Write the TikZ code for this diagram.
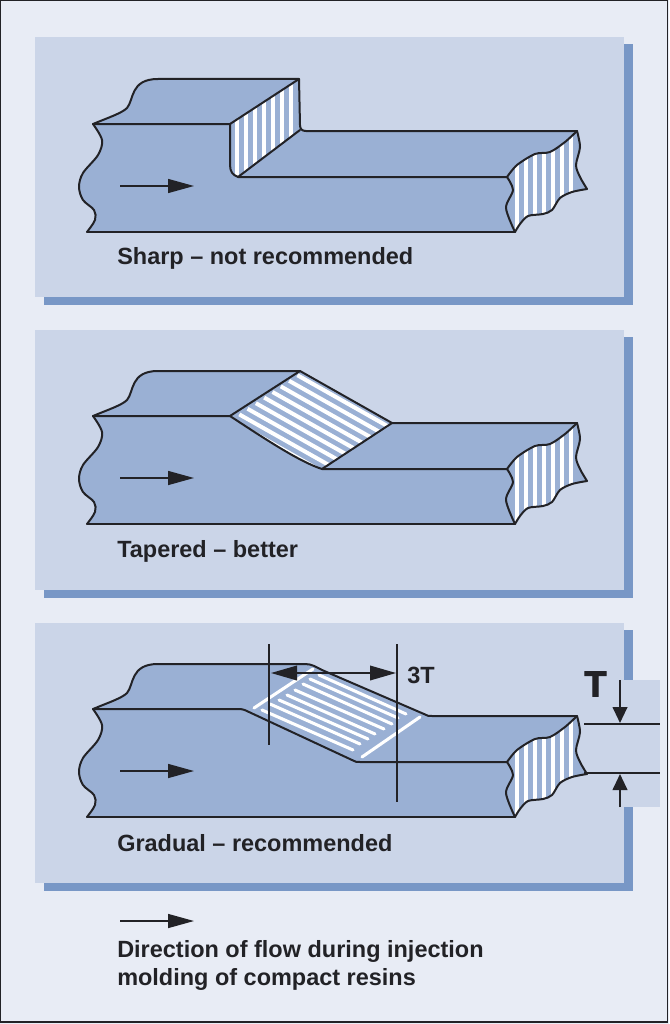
\documentclass[tikz,border=0pt]{standalone}
\usepackage{fontspec}
\setmainfont{Liberation Sans}
\newfontfamily\heavyfont[FakeBold=2.5]{Liberation Sans Bold}
\usetikzlibrary{arrows.meta}
\definecolor{bgc}{HTML}{E8ECF5}
\definecolor{panelc}{HTML}{CBD5E8}
\definecolor{shadowc}{HTML}{7897C6}
\definecolor{blockc}{HTML}{9AB0D4}
\definecolor{inkc}{HTML}{222226}
\tikzset{
  edge/.style={draw=inkc,line width=1.5pt,line join=round,line cap=round},
  hatch/.style={draw=white,line width=2.5pt},
  hatchwide/.style={draw=white,line width=3pt},
  flowarrow/.style={draw=inkc,line width=1.1pt,-{Triangle[length=19.5pt,width=10.5pt]}},
  dimarrow/.style={draw=inkc,line width=1.1pt,{Triangle[length=19.5pt,width=11pt]}-{Triangle[length=19.5pt,width=11pt]}},
  tarrow/.style={draw=inkc,line width=1.5pt,-{Triangle[length=12pt,width=11pt]}},
  dimline/.style={draw=inkc,line width=1.1pt},
  tline/.style={draw=inkc,line width=1.9pt},
  caption/.style={anchor=west,font=\fontsize{17.6pt}{21pt}\selectfont\bfseries,text=inkc,inner sep=0pt,align=left},
  whitedash/.style={draw=white,line width=2.3pt,line cap=round}
}
\newcommand\LeftWave[1]{#1 plot[smooth,tension=.55] coordinates {(87,232) (95,220) (94,210) (83,200) (79,187) (83,173) (98,155) (102,140) (93,124)}}
\newcommand\CutA[1]{#1 plot[smooth,tension=.5] coordinates {(507,177) (517,165) (535,154) (550,152) (565,142) (577,131)}}
\newcommand\CutB[1]{#1 plot[smooth,tension=.5] coordinates {(577,131) (580,147) (576,165) (580,177) (587,189)}}
\newcommand\CutC[1]{#1 plot[smooth,tension=.5] coordinates {(587,189) (572,192) (560,198) (552,210) (543,214) (528,216) (520,224) (515,232)}}
\newcommand\CutD[1]{#1 plot[smooth,tension=.5] coordinates {(515,232) (506,208) (513,190) (507,177)}}
\newcommand\TopCurve{(93,124) .. controls (110,117) and (122,113) .. (127,108) .. controls (134,100) and (130,79) .. (158,79)}
\newcommand\BlockEnds{%
  \begin{scope}
    \clip \CutA{} \CutB{--} \CutC{--} \CutD{--} -- cycle;
    \foreach \sx in {517,526,535,544,553,562,571}{\draw[hatch] (\sx,120) -- (\sx,240);}
  \end{scope}
  \draw[edge] \LeftWave{};
  \draw[edge] \CutA{};
  \draw[edge] \CutB{};
  \draw[edge] \CutC{};
  \draw[edge] \CutD{};
  \draw[edge] (87,232) -- (515,232);
}
\begin{document}
\begin{tikzpicture}[x=0.75pt,y=-0.75pt]
\useasboundingbox (0,0) rectangle (669,1024);
\fill[bgc] (0,0) rectangle (669,1024);
\draw[inkc,line width=1.2pt] (0.6,0.6) rectangle (667.6,1022);

% panels
\foreach \py in {0,293,586}{
  \fill[shadowc] (44,44+\py) rectangle (633,305+\py);
  \fill[panelc] (35,37+\py) rectangle (624,297+\py);
}

% Block 1: sharp
\fill[blockc] \LeftWave{} -- (93,124) .. controls (110,117) and (122,113) .. (127,108) .. controls (134,100) and (130,79) .. (158,79) -- (299,79) -- (300,125) .. controls (300,129) and (302,131) .. (306,131) -- (577,131) \CutB{--} \CutC{--} -- cycle;
\begin{scope}
  \clip (230,124) -- (299,79) -- (300,130) -- (238,177) .. controls (233,175) and (230,172) .. (230,165) -- cycle;
  \foreach \sx in {237,246,255,264,273,282,291}{\draw[hatch] (\sx,70) -- (\sx,190);}
\end{scope}
\BlockEnds
\draw[edge] \TopCurve -- (299,79) -- (300,125) .. controls (300,129) and (302,131) .. (306,131) -- (577,131);
\draw[edge] (93,124) -- (230,124) -- (299,79);
\draw[edge] (230,124) -- (230,165) .. controls (230,172) and (233,175) .. (238,177) -- (507,177);
\draw[edge] (238,177) -- (300,130);
\coordinate (a1s) at (120,186); \coordinate (a1e) at (194,186);
\draw[flowarrow] (a1s) -- (a1e);
\node[caption] (cap1) at (117,258) {Sharp – not recommended};

% Block 2: tapered
\begin{scope}[shift={(0,292)}]
\fill[blockc] \LeftWave{} -- (93,124) .. controls (110,117) and (122,113) .. (127,108) .. controls (134,100) and (130,79) .. (158,79) -- (300,79) -- (392,131) -- (577,131) \CutB{--} \CutC{--} -- cycle;
\begin{scope}
  \clip (230,124) -- (300,79) -- (392,131) -- (322,177) .. controls (300,170) and (265,147) .. (230,124) -- cycle;
  \foreach \k in {0,...,8}{
    \draw[hatchwide] ({231+\k*8.3},{128-\k*5.6}) -- ++(92,52);
  }
\end{scope}
\BlockEnds
\draw[edge] \TopCurve -- (300,79) -- (392,131) -- (577,131);
\draw[edge] (93,124) -- (230,124) -- (300,79);
\draw[edge] (392,131) -- (322,177) -- (507,177);
\draw[edge] (230,124) .. controls (265,147) and (300,170) .. (322,177);
\coordinate (a2s) at (120,186); \coordinate (a2e) at (194,186);
\draw[flowarrow] (a2s) -- (a2e);
\end{scope}
\node[caption] (cap2) at (117,551) {Tapered – better};

% T clearing
\fill[panelc] (584,680) rectangle (660,807);

% Block 3: gradual
\begin{scope}[shift={(0,585)}]
\fill[blockc] \LeftWave{} -- (93,124) .. controls (110,117) and (122,113) .. (127,108) .. controls (134,100) and (130,79) .. (158,79) -- (305,79) .. controls (312,79) and (316,82) .. (322,85) -- (424,129) .. controls (427,131) and (429,131) .. (432,131) -- (577,131) \CutB{--} \CutC{--} -- cycle;
\BlockEnds
\draw[edge] \TopCurve -- (305,79) .. controls (312,79) and (316,82) .. (322,85) -- (424,129) .. controls (427,131) and (429,131) .. (432,131) -- (577,131);
\draw[edge] (93,124) -- (238,124) .. controls (243,124) and (245,125) .. (249,127) -- (352,175) .. controls (355,177) and (357,177) .. (360,177) -- (507,177);
\coordinate (a3s) at (120,186); \coordinate (a3e) at (194,186);
\draw[flowarrow] (a3s) -- (a3e);
\end{scope}
% white marks on the gradual slope
\foreach \xa/\ya/\xb/\yb in {
  254/708/313/669, 362/757/420/717,
  262/710/353/750, 270/704/360/744, 279/700/368/739, 287/695/375/734,
  295/690/384/729, 303/684/392/724, 310/679/398/718, 319/675/406/714}{
  \draw[whitedash] (\xa,\ya) -- (\xb,\yb);
}
% 3T dimension
\coordinate (d1t) at (269,644); \coordinate (d1b) at (269,745);
\coordinate (d2t) at (397,644); \coordinate (d2b) at (397,802);
\draw[dimline] (d1t) -- (d1b);
\draw[dimline] (d2t) -- (d2b);
\coordinate (da) at (271,673); \coordinate (db) at (396,673);
\draw[dimarrow] (da) -- (db);
\node[caption] (lab3t) at (407,675) {3T};
\node[caption] (cap3) at (117,843) {Gradual – recommended};

% T dimension
\coordinate (t1a) at (584,724); \coordinate (t1b) at (660,724);
\coordinate (t2a) at (584,773); \coordinate (t2b) at (660,773);
\draw[tline] (t1a) -- (t1b);
\draw[tline] (t2a) -- (t2b);
\coordinate (ta) at (620,680); \coordinate (tb) at (620,723);
\coordinate (tc) at (620,807); \coordinate (td) at (620,774);
\draw[tarrow] (ta) -- (tb);
\draw[tarrow] (tc) -- (td);
\node[anchor=center,inner sep=0pt,text=inkc,font=\fontsize{27pt}{27pt}\heavyfont] (labt) at (595.5,684) {T};

% legend
\coordinate (l1) at (120,921); \coordinate (l2) at (194,921);
\draw[flowarrow] (l1) -- (l2);
\node[caption] (cap4) at (117,951) {Direction of flow during injection};
\node[caption] (cap5) at (117,979) {molding of compact resins};
\end{tikzpicture}
\end{document}
